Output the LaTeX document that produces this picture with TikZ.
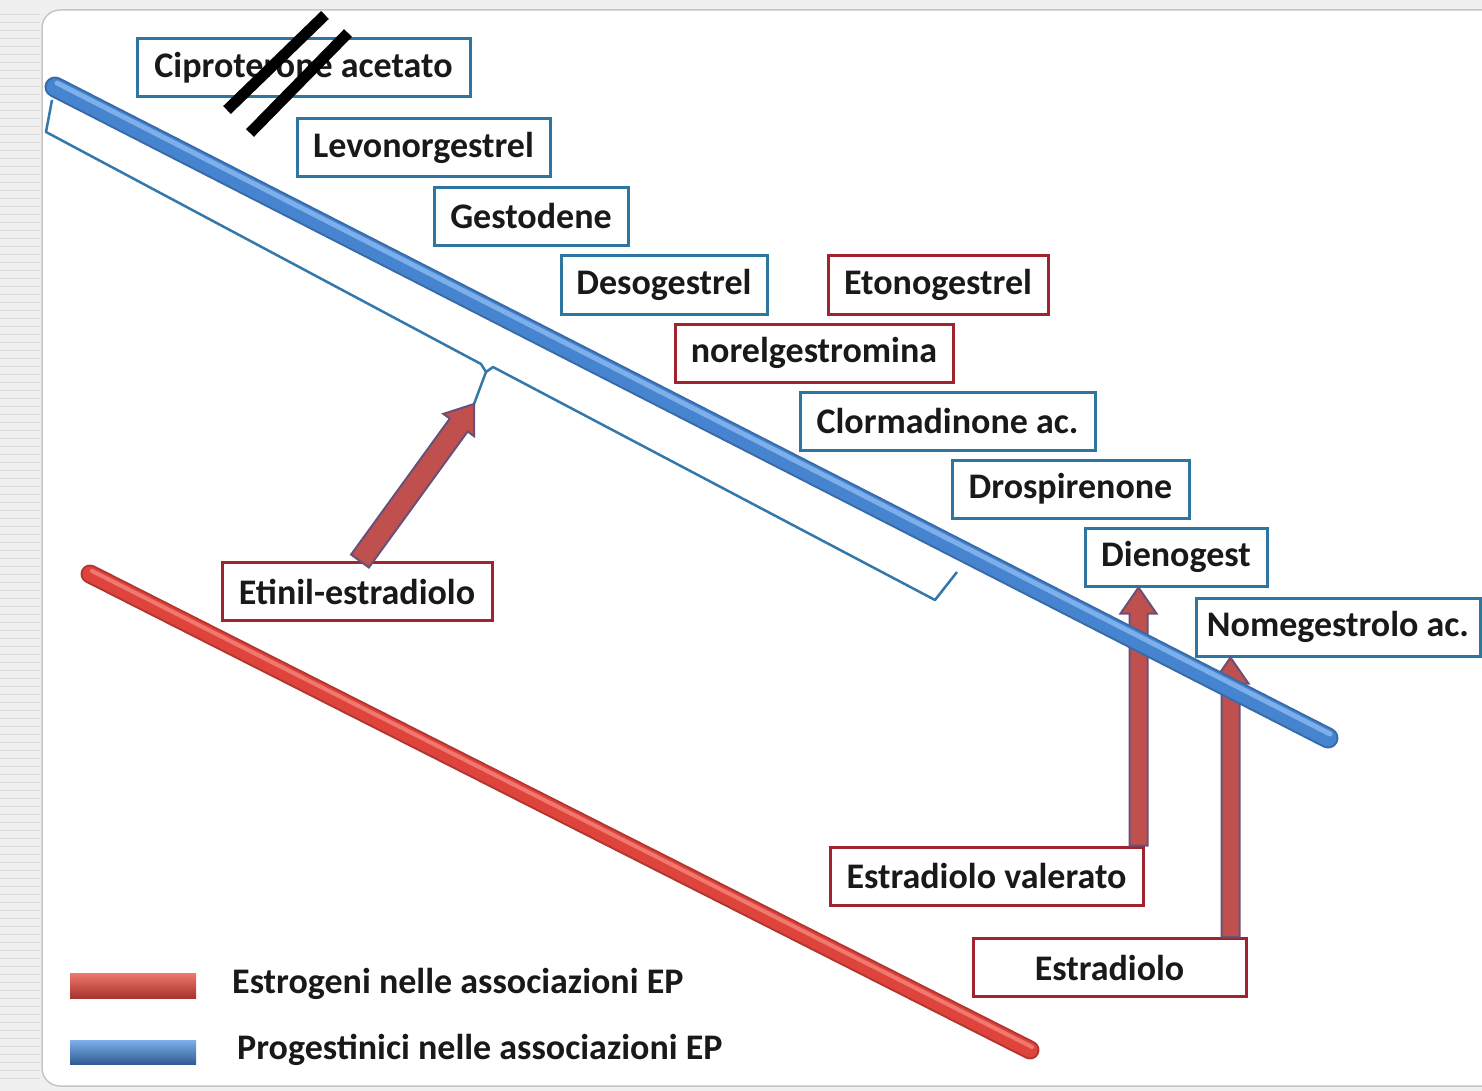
\documentclass[tikz,border=0pt]{standalone}
\usepackage{fontspec}
\setmainfont{Carlito}
\usetikzlibrary{calc}
\definecolor{boxblue}{RGB}{46,117,160}
\definecolor{boxred}{RGB}{160,35,45}
\definecolor{txt}{RGB}{25,25,25}
\definecolor{progblue}{RGB}{70,132,208}
\definecolor{proglight}{RGB}{125,175,235}
\definecolor{estred}{RGB}{222,68,60}
\definecolor{estlight}{RGB}{240,120,110}
\definecolor{arrfill}{RGB}{192,80,77}
\definecolor{arredge}{RGB}{105,80,120}
\tikzset{
  drug/.style={draw, line width=3pt, fill=white, minimum height=58pt, inner sep=0pt,
     font=\bfseries\fontsize{36}{36}\selectfont, text=txt},
  bbox/.style={drug, draw=boxblue},
  rbox/.style={drug, draw=boxred},
  fatarr/.style={fill=arrfill, draw=arredge, line width=2pt, line join=miter},
  bracestyle/.style={draw=boxblue!80!progblue, line width=2.5pt, line join=round},
  legtext/.style={font=\bfseries\fontsize{36}{36}\selectfont, text=txt, anchor=west, inner sep=0pt}
}
\newcommand\fatarrow[4]{% start, tip, body half width, head half width
  \path (#1) coordinate (fa1) (#2) coordinate (fa2);
  \coordinate (fab) at ($(fa2)!26pt!(fa1)$);
  \path[fatarr] ($(fa1)!#3pt!90:(fa2)$) -- ($(fab)!#3pt!90:(fa2)$) -- ($(fab)!#4pt!90:(fa2)$)
    -- (fa2) -- ($(fab)!#4pt!-90:(fa2)$) -- ($(fab)!#3pt!-90:(fa2)$) -- ($(fa1)!#3pt!-90:(fa2)$) -- cycle;
}
\begin{document}
\begin{tikzpicture}[x=1pt,y=-1pt]
\useasboundingbox (0,0) rectangle (1482,1091);
% background / frame
\fill[gray!12] (0,0) rectangle (1482,1091);
\foreach \yy in {14,22,...,1085} \draw[gray!30, line width=0.8pt] (0,\yy) -- (40,\yy);
\fill[white, draw=gray!45, line width=1.5pt, rounded corners=18pt] (42,10) rectangle (1520,1086);

% bracket
\coordinate (brtip) at (474,404);
\path[bracestyle] (52,100) -- (46,132) -- (481,364) -- (486,372) -- (brtip);
\path[bracestyle] (486,372) -- (493,367) -- (935,600) -- (957,572);

% boxes
\node[bbox, minimum width=333pt] (cip) at (303.5,68) {Ciproterone acetato};
\node[bbox, minimum width=253pt] (lev) at (423.5,147.5) {Levonorgestrel};
\node[bbox, minimum width=194pt] (ges) at (531,216.5) {Gestodene};
\node[bbox, minimum width=206pt] (des) at (664,285) {Desogestrel};
\node[rbox, minimum width=220pt] (eto) at (938,285) {Etonogestrel};
\node[rbox, minimum width=278pt] (nor) at (814,353) {norelgestromina};
\node[bbox, minimum width=295pt] (clo) at (947.5,421) {Clormadinone ac.};
\node[bbox, minimum width=237pt] (dro) at (1070.5,489) {Drospirenone};
\node[bbox, minimum width=182pt] (die) at (1176,557) {Dienogest};
\node[bbox, minimum width=284pt] (nom) at (1338,627) {Nomegestrolo ac.};
\node[rbox, minimum width=270pt] (eti) at (357,591.5) {Etinil-estradiolo};
\node[rbox, minimum width=313pt] (esv) at (986.5,876) {Estradiolo valerato};
\node[rbox, minimum width=273pt] (est) at (1109.5,967.5) {Estradiolo};

% arrows
\fatarrow{$(eti.north)+(3,0)$}{brtip}{11}{19}
\coordinate (a1) at ($(esv.north east)+(-6,0)$);
\fatarrow{a1}{die.south -| a1}{9}{18}
\coordinate (a2) at ($(est.north east)+(-17,0)$);
\fatarrow{a2}{nom.south -| a2}{9}{18}

% progestin (blue) and estrogen (red) lines
\coordinate (bl1) at (55,87);
\coordinate (bl2) at (1328,738);
\draw[progblue!80!black, line width=21pt, line cap=round] (bl1) -- (bl2);
\draw[progblue, line width=17pt, line cap=round] (bl1) -- (bl2);
\draw[proglight, line width=5pt, line cap=round] ($(bl1)+(2,-4)$) -- ($(bl2)+(2,-4)$);
\coordinate (rl1) at (90,574);
\coordinate (rl2) at (1030,1050);
\draw[estred!80!black, line width=19pt, line cap=round] (rl1) -- (rl2);
\draw[estred, line width=15pt, line cap=round] (rl1) -- (rl2);
\draw[estlight, line width=4pt, line cap=round] ($(rl1)+(2,-3)$) -- ($(rl2)+(2,-3)$);

% slash marks on Ciproterone
\draw[black, line width=11pt] (227,110) -- (325,15);
\draw[black, line width=11pt] (250,133) -- (348,33);

% legend
\shade[top color=estlight, bottom color=estred!75!black] (70,973) rectangle (196,998);
\shade[top color=proglight, bottom color=progblue!70!black] (70,1040) rectangle (196,1064);
\node[legtext] (leg1) at (232,984) {Estrogeni nelle associazioni EP};
\node[legtext] (leg2) at (237,1050) {Progestinici nelle associazioni EP};
\end{tikzpicture}
\end{document}
